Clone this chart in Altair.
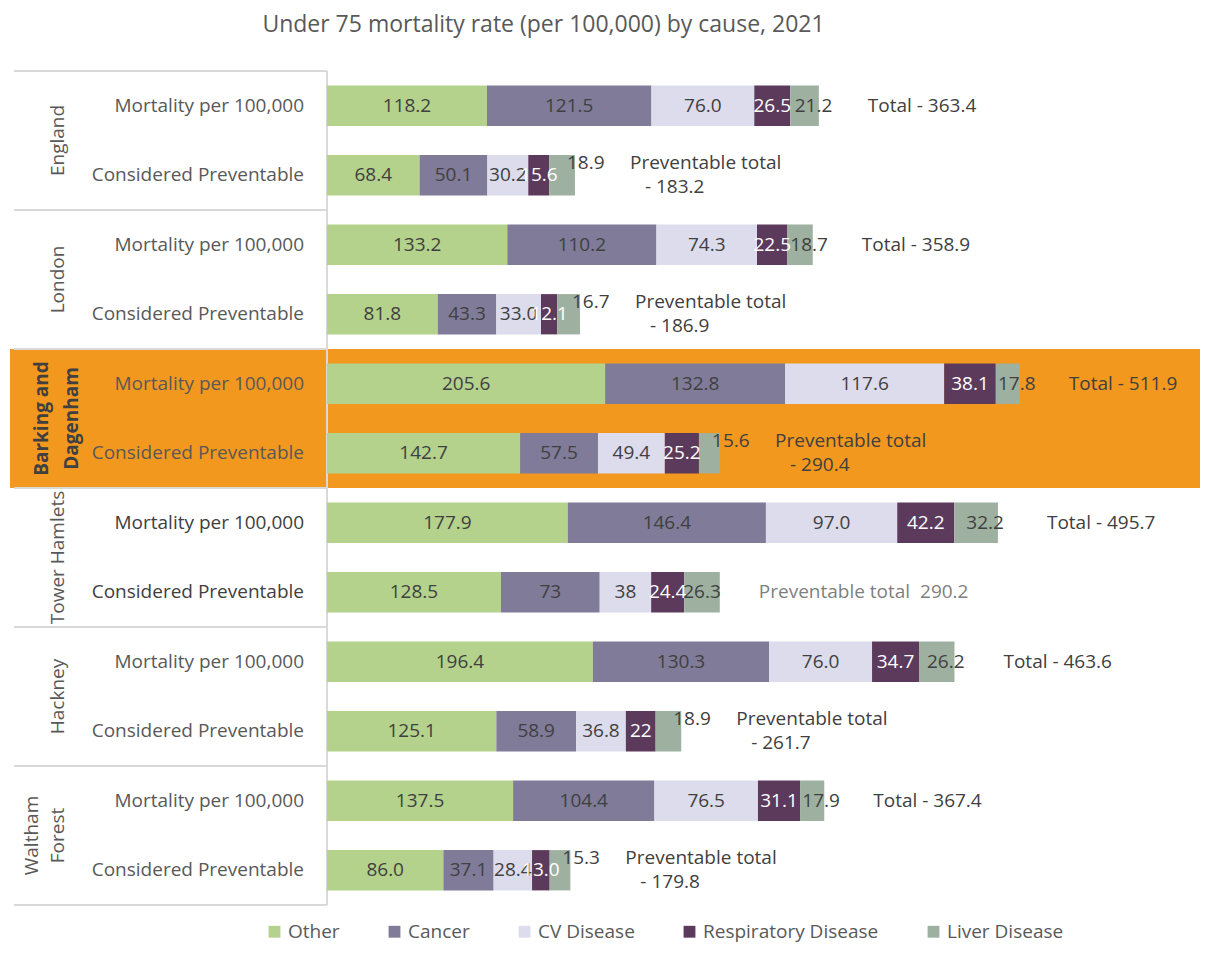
import altair as alt
import pandas as pd

areas = ["England", "London", "Barking and Dagenham", "Tower Hamlets", "Hackney", "Waltham Forest"]
area_labels = ["England", "London", "Barking and\nDagenham", "Tower Hamlets", "Hackney", "Waltham\nForest"]
measures = ["Mortality per 100,000", "Considered Preventable"]
causes = ["Other", "Cancer", "CV Disease", "Respiratory Disease", "Liver Disease"]
colors = ["#b4d28c", "#7f7b99", "#dcdcec", "#5c3a5c", "#9eb0a0"]
highlight = "Barking and Dagenham"
plain_area = "Tower Hamlets"

# rows: area x measure (mortality, preventable)
other = [118.2, 68.4, 133.2, 81.8, 205.6, 142.7, 177.9, 128.5, 196.4, 125.1, 137.5, 86.0]
cancer = [121.5, 50.1, 110.2, 43.3, 132.8, 57.5, 146.4, 73, 130.3, 58.9, 104.4, 37.1]
cv = [76.0, 30.2, 74.3, 33.0, 117.6, 49.4, 97.0, 38, 76.0, 36.8, 76.5, 28.4]
resp = [26.5, 15.6, 22.5, 12.1, 38.1, 25.2, 42.2, 24.4, 34.7, 22, 31.1, 13.0]
liver = [21.2, 18.9, 18.7, 16.7, 17.8, 15.6, 32.2, 26.3, 26.2, 18.9, 17.9, 15.3]
series = {"Other": other, "Cancer": cancer, "CV Disease": cv,
          "Respiratory Disease": resp, "Liver Disease": liver}

FONT = "Open Sans"
GREY = "#595959"
DARK = "#404040"


def fmt(v):
    return str(v) if isinstance(v, int) else f"{v:.1f}"


seg_rows, tot_rows = [], []
for r in range(len(other)):
    area = areas[r // 2]
    measure = measures[r % 2]
    start = 0.0
    for c in causes:
        v = series[c][r]
        seg_rows.append(dict(row=r, area=area, measure=measure, cause=c, value=float(v),
                             start=start, end=start + v, mid=start + v / 2, label=fmt(v),
                             y0=r + 0.21, y1=r + 0.79, yc=r + 0.5))
        start += v
    total = round(start, 1)
    tot_rows.append(dict(row=r, area=area, measure=measure, total=total, yc=r + 0.5,
                         t_mort=f"Total - {total:.1f}",
                         t_line1="Preventable total",
                         t_line2=f"- {total:.1f}",
                         t_single=f"Preventable total \u00a0{total:.1f}",
                         dark=area == plain_area))
seg = pd.DataFrame(seg_rows)
tot = pd.DataFrame(tot_rows)

groups = pd.DataFrame([dict(g=i, area=a, lab=area_labels[i], y0=2 * i, y1=2 * i + 2, yc=2 * i + 1,
                            multi="\n" in area_labels[i])
                       for i, a in enumerate(areas)])
bounds = pd.DataFrame({"yb": [2 * i for i in range(len(areas) + 1)]})
vline = pd.DataFrame({"y0": [0], "y1": [2 * len(areas)]})

xscale = alt.Scale(domain=[0, 645], nice=False, zero=True)
yscale = alt.Scale(domain=[0, 2 * len(areas)], reverse=True, nice=False, zero=False)


def X(f):
    return alt.X(f, type="quantitative", scale=xscale, axis=None)


def Y(f):
    return alt.Y(f, type="quantitative", scale=yscale, axis=None)


orange = alt.Chart(groups[groups.area == highlight]).mark_rect(color="#f3981e").encode(
    x=alt.value(-317), x2=alt.value(873), y=Y("y0"), y2=alt.Y2("y1"))

hlines = alt.Chart(bounds).mark_rule(color="#d9d9d9", strokeWidth=2).encode(
    x=alt.value(-313), x2=alt.value(0), y=Y("yb"))
vrule = alt.Chart(vline).mark_rule(color="#d9d9d9", strokeWidth=2).encode(
    x=alt.value(0), y=Y("y0"), y2=alt.Y2("y1"))

bars = alt.Chart(seg).mark_bar().encode(
    x=X("start"), x2=alt.X2("end"), y=Y("y0"), y2=alt.Y2("y1"),
    color=alt.Color("cause:N", scale=alt.Scale(domain=causes, range=colors), sort=causes,
                    legend=alt.Legend(orient="none", legendX=-62, legendY=851,
                                      direction="horizontal", columns=5, title=None,
                                      symbolType="square", symbolSize=140,
                                      symbolStrokeWidth=0, labelFontSize=19,
                                      labelColor=GREY, labelFont=FONT, labelLimit=0,
                                      columnPadding=45, labelOffset=4)),
)

txt = dict(fontSize=19, font=FONT)
dark_lab = alt.Chart(seg[seg.cause.isin(causes[:3])]).mark_text(color=DARK, **txt).encode(
    x=X("mid"), y=Y("yc"), text="label:N")
white_lab = alt.Chart(seg[seg.cause == "Respiratory Disease"]).mark_text(color="white", **txt).encode(
    x=X("mid"), y=Y("yc"), text="label:N")
liv = seg[seg.cause == "Liver Disease"]
liv_m = liv[(liv.measure == measures[0])]
liv_t = liv[(liv.measure == measures[1]) & (liv.area == plain_area)]
liv_r = liv[(liv.measure == measures[1]) & (liv.area != plain_area)]
liver_m = alt.Chart(liv_m).mark_text(color=DARK, dx=9, **txt).encode(
    x=X("mid"), y=Y("yc"), text="label:N")
liver_t = alt.Chart(liv_t).mark_text(color=DARK, **txt).encode(
    x=X("mid"), y=Y("yc"), text="label:N")
liver_r = alt.Chart(liv_r).mark_text(color=DARK, align="left", dx=-8, dy=-12, **txt).encode(
    x=X("end"), y=Y("yc"), text="label:N")

mort_tot = alt.Chart(tot[tot.measure == measures[0]]).mark_text(
    color=DARK, align="left", dx=49, **txt).encode(x=X("total"), y=Y("yc"), text="t_mort:N")
prev = tot[(tot.measure == measures[1]) & (tot.area != plain_area)]
prev1 = alt.Chart(prev).mark_text(color=DARK, align="left", dx=55, dy=-12, **txt).encode(
    x=X("total"), y=Y("yc"), text="t_line1:N")
prev2 = alt.Chart(prev).mark_text(color=DARK, align="left", dx=70, dy=12, **txt).encode(
    x=X("total"), y=Y("yc"), text="t_line2:N")
prev_s = alt.Chart(tot[(tot.measure == measures[1]) & (tot.area == plain_area)]).mark_text(
    color="#7f7f7f", align="left", dx=39, **txt).encode(x=X("total"), y=Y("yc"), text="t_single:N")

meas_lab = alt.Chart(tot).mark_text(align="right", **txt).encode(
    x=alt.value(-23), y=Y("yc"), text="measure:N",
    color=alt.condition("datum.dark", alt.value(DARK), alt.value(GREY)))

single = groups[(groups.area != highlight) & (~groups.multi)]
multi = groups[(groups.area != highlight) & (groups.multi)]
reg1 = alt.Chart(single).mark_text(angle=270, color=GREY, **txt).encode(
    x=alt.value(-269), y=Y("yc"), text="lab:N")
reg2 = alt.Chart(multi).mark_text(
    angle=270, color=GREY, lineBreak="\n", lineHeight=26, **txt).encode(
    x=alt.value(-295), y=Y("yc"), text="lab:N")
reg_h = alt.Chart(groups[groups.area == highlight]).mark_text(
    angle=270, color=DARK, fontWeight="bold", lineBreak="\n", lineHeight=30, **txt).encode(
    x=alt.value(-285), y=Y("yc"), text="lab:N")

chart = alt.layer(
    orange, hlines, vrule, bars, dark_lab, white_lab, liver_m, liver_t, liver_r,
    mort_tot, prev1, prev2, prev_s, meas_lab, reg1, reg2, reg_h,
).properties(
    width=873, height=834, autosize="none",
    padding={"left": 319, "top": 63, "right": 0, "bottom": 43},
    title=alt.TitleParams("Under 75 mortality rate (per 100,000) by cause, 2021",
                          fontSize=23, font=FONT, color=GREY, fontWeight="normal",
                          anchor="middle", dx=-220, offset=33),
).configure(font=FONT).configure_view(stroke=None)

chart.save("out.html", embed_options={"renderer": "svg", "actions": False})
